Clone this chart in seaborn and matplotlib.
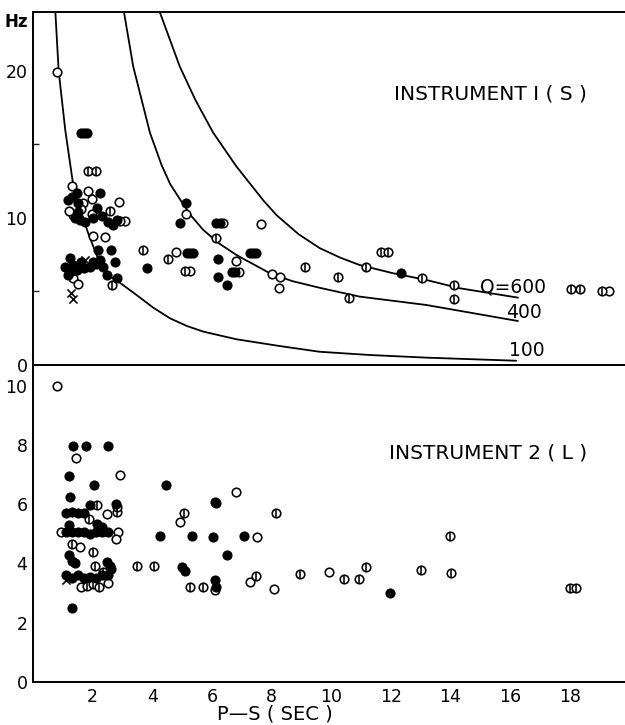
import matplotlib
matplotlib.use('Agg')
import matplotlib.pyplot as plt
import seaborn as sns

# ── data: P-S time (sec) vs frequency (Hz) ──
# theoretical Q curves (instrument 1)
q100_t = [0.75, 0.86, 1.08, 1.33, 1.6, 1.85, 2.24, 2.58, 2.91, 3.47, 4.03, 4.59, 5.15, 5.71, 6.82,
          8.27, 9.61, 11.29, 13.19, 16.2]
q100_f = [24.0, 20.0, 16.0, 12.5, 10.5, 8.96, 6.92, 6.01, 5.6, 4.76, 3.9, 3.18, 2.66, 2.27, 1.75,
          1.29, 0.90, 0.68, 0.50, 0.29]
q400_t = [3.05, 3.36, 3.92, 4.31, 4.6, 4.98, 5.32, 5.71, 6.25, 6.82, 7.94, 8.7, 9.61, 10.95, 13.19, 16.26]
q400_f = [24.0, 20.3, 15.8, 13.6, 12.3, 11.1, 10.1, 9.18, 8.25, 7.48, 6.24, 5.7, 5.25, 4.65, 4.08, 2.99]
q600_t = [4.25, 4.92, 5.45, 6.04, 6.82, 7.72, 8.16, 8.9, 9.61, 10.3, 10.95, 12.07, 13.19, 14.3, 16.26]
q600_f = [24.0, 20.3, 18.0, 15.8, 13.5, 11.2, 10.2, 8.9, 7.95, 7.3, 6.8, 6.24, 5.78, 5.22, 4.58]

# instrument 1 (S)
top_open_t = [0.81, 1.30, 1.85, 2.89, 1.69, 1.97, 1.35, 1.97, 3.08, 2.91, 2.0, 2.41, 1.35, 1.52,
              4.81, 5.13, 6.38, 7.63, 6.79, 5.28, 8.0, 8.27, 8.25, 19.33, 1.2, 1.6]
top_open_f = [19.9, 12.2, 11.8, 11.1, 11.0, 11.3, 10.2, 10.3, 9.82, 9.8, 8.78, 8.69, 5.9, 5.49,
              7.71, 10.3, 9.64, 9.59, 7.07, 6.42, 6.17, 5.96, 5.26, 5.05, 10.5, 10.6]
top_fill_t = [1.6, 1.7, 1.8, 2.24, 1.18, 1.46, 2.13, 1.57, 1.74, 2.30, 2.52, 2.69, 2.80, 2.19, 2.60,
              1.24, 1.35, 1.07, 1.46, 1.91, 2.24, 2.36, 2.75, 1.18, 2.47, 2.80, 3.81, 4.92, 5.13,
              6.15, 6.26, 5.15, 5.26, 5.37, 6.19, 7.27, 7.38, 7.49, 6.66, 6.77, 6.19, 6.51, 12.35,
              1.3, 1.5, 2.0, 1.4, 1.6, 2.0, 1.3, 1.7, 2.1, 1.5]
top_fill_f = [15.8, 15.8, 15.8, 11.7, 11.2, 11.7, 10.66, 9.86, 9.75, 10.1, 9.75, 9.52, 9.86, 7.82, 7.82,
              7.26, 6.8, 6.69, 6.46, 6.69, 7.14, 6.69, 7.03, 6.12, 6.12, 5.9, 6.58, 9.64, 11.04,
              9.64, 9.64, 7.64, 7.64, 7.64, 7.21, 7.64, 7.64, 7.64, 6.35, 6.35, 5.96, 5.42, 6.24,
              11.4, 11.0, 10.0, 10.0, 7.0, 7.0, 6.4, 6.6, 6.9, 10.4]
top_bar_t = [1.85, 2.1, 2.58, 2.64, 3.70, 4.53, 6.13, 5.09, 6.9, 9.11, 10.23, 10.59, 11.16, 11.68,
             11.9, 13.04, 14.11, 14.11, 18.05, 18.33, 19.08]
top_bar_f = [13.2, 13.2, 10.5, 5.44, 7.82, 7.19, 8.62, 6.42, 6.35, 6.64, 6.01, 4.54, 6.69, 7.67,
             7.67, 5.94, 5.44, 4.49, 5.15, 5.15, 5.05]
top_x_t = [1.74, 1.27, 1.35]
top_x_f = [7.14, 4.88, 4.49]

# instrument 2 (L)
bot_open_t = [0.81, 1.43, 2.91, 2.47, 0.93, 2.85, 2.78, 1.57, 6.79, 4.92, 7.51, 6.10, 7.27, 8.08,
              9.92, 1.6, 2.5]
bot_open_f = [10.0, 7.55, 6.99, 5.68, 5.06, 5.06, 4.81, 4.55, 6.43, 5.39, 4.89, 3.09, 3.39, 3.15,
              3.70, 3.2, 3.35]
bot_fill_t = [1.35, 1.78, 2.52, 1.22, 2.04, 1.24, 2.78, 1.91, 1.1, 1.3, 1.5, 1.7, 2.13, 2.30,
              1.1, 1.3, 1.5, 1.7, 1.9, 2.1, 2.3, 2.5, 1.30, 1.2, 2.47, 2.58,
              1.1, 1.3, 1.5, 1.7, 1.9, 2.1, 2.3, 2.5, 2.6, 1.32, 4.46, 6.10, 6.15, 4.25, 5.34,
              6.04, 7.07, 6.51, 4.98, 5.09, 6.10, 6.15, 11.96, 1.2, 1.4]
bot_fill_f = [7.98, 7.98, 7.98, 6.97, 6.65, 6.24, 6.01, 5.96, 5.72, 5.75, 5.72, 5.72, 5.34, 5.22,
              5.06, 5.06, 5.06, 5.06, 5.0, 5.06, 5.06, 5.06, 4.1, 4.3, 4.04, 3.9,
              3.6, 3.5, 3.6, 3.5, 3.55, 3.5, 3.6, 3.6, 3.8, 2.51, 6.65, 6.09, 6.05, 4.94, 4.94,
              4.91, 4.94, 4.30, 3.88, 3.76, 3.43, 3.2, 3.0, 5.3, 4.0]
bot_bar_t = [2.13, 2.82, 1.89, 1.3, 2.02, 2.08, 2.36, 3.49, 4.05, 5.07, 8.16, 5.26, 5.71, 7.49,
             8.94, 10.43, 10.92, 11.18, 13.0, 13.99, 14.03, 17.99, 18.21, 1.8, 2.0, 2.2, 2.8]
bot_bar_f = [5.98, 5.73, 5.5, 4.66, 4.38, 3.93, 3.71, 3.93, 3.93, 5.72, 5.72, 3.22, 3.22, 3.57,
             3.65, 3.49, 3.49, 3.88, 3.79, 4.94, 3.67, 3.18, 3.18, 3.25, 3.3, 3.2, 5.9]
bot_x_t = [1.1]
bot_x_f = [3.45]

sns.set_theme(style='white')
plt.rcParams['font.family'] = ['DejaVu Sans']
plt.rcParams['text.color'] = 'black'
plt.rcParams['axes.labelcolor'] = 'black'

MS = 38      # marker area
LW = 1.15


def draw_points(ax, open_t, open_f, fill_t, fill_f, bar_t, bar_f, x_t, x_f):
    sns.scatterplot(x=open_t, y=open_f, ax=ax, marker='o', s=MS, facecolor='white',
                    edgecolor='black', linewidth=LW, zorder=3)
    sns.scatterplot(x=bar_t, y=bar_f, ax=ax, marker='o', s=MS, facecolor='white',
                    edgecolor='black', linewidth=LW, zorder=3)
    ax.scatter(bar_t, bar_f, marker='|', s=MS * 0.8, color='black', linewidths=LW, zorder=4)
    sns.scatterplot(x=fill_t, y=fill_f, ax=ax, marker='o', s=MS, color='black',
                    edgecolor='black', linewidth=LW, zorder=3)
    ax.scatter(x_t, x_f, marker='x', s=MS * 0.9, color='black', linewidths=LW, zorder=3)


def style_axis(ax):
    ax.spines['right'].set_visible(False)
    for side in ['left', 'top', 'bottom']:
        ax.spines[side].set_color('black')
        ax.spines[side].set_linewidth(1.4)
    ax.set_xlim(0, 19.85)
    ax.set_xticks(range(2, 20, 2))
    ax.tick_params(axis='both', direction='in', length=5, width=1.1, colors='black',
                   labelsize=12.5, pad=4)
    ax.set_xlabel('')
    ax.set_ylabel('')


fig = plt.figure(figsize=(6.25, 7.25), dpi=100)
W, H = 625, 725
ax1 = fig.add_axes([33 / W, 1 - 365 / H, 1 - 33 / W, (365 - 12) / H])
ax2 = fig.add_axes([33 / W, 1 - 682 / H, 1 - 33 / W, (682 - 365) / H])

# ── top panel: instrument 1 ──
for qt, qf in [(q100_t, q100_f), (q400_t, q400_f), (q600_t, q600_f)]:
    sns.lineplot(x=qt, y=qf, ax=ax1, color='black', linewidth=1.3, sort=False,
                 estimator=None, zorder=2)
draw_points(ax1, top_open_t, top_open_f, top_fill_t, top_fill_f,
            top_bar_t, top_bar_f, top_x_t, top_x_f)
style_axis(ax1)
ax1.set_ylim(0, 24)
ax1.set_yticks([0, 10, 20])
ax1.set_yticks([5, 15], minor=True)
ax1.tick_params(axis='y', which='minor', direction='in', length=4, width=1.0, left=True)
ax1.tick_params(axis='x', labelbottom=False)
ax1.text(-0.55, 23.3, 'Hz', fontsize=12, fontweight='bold', ha='center', va='center')
ax1.text(12.1, 18.4, 'INSTRUMENT I ( S )', fontsize=14.5, ha='left', va='center')
ax1.text(15.0, 5.3, 'Q=600', fontsize=13.5, ha='left', va='center')
ax1.text(15.85, 3.6, '400', fontsize=13.5, ha='left', va='center')
ax1.text(15.95, 1.0, '100', fontsize=13.5, ha='left', va='center')

# ── bottom panel: instrument 2 ──
draw_points(ax2, bot_open_t, bot_open_f, bot_fill_t, bot_fill_f,
            bot_bar_t, bot_bar_f, bot_x_t, bot_x_f)
style_axis(ax2)
ax2.set_ylim(0, 10.7)
ax2.set_yticks(range(0, 11, 2))
ax2.text(11.95, 7.72, 'INSTRUMENT 2 ( L )', fontsize=14.5, ha='left', va='center')
ax2.set_xlabel('P—S ( SEC )', fontsize=14, labelpad=0)
ax2.xaxis.set_label_coords(8.1 / 19.85, -0.07)

fig.savefig('out.png', dpi=100)
